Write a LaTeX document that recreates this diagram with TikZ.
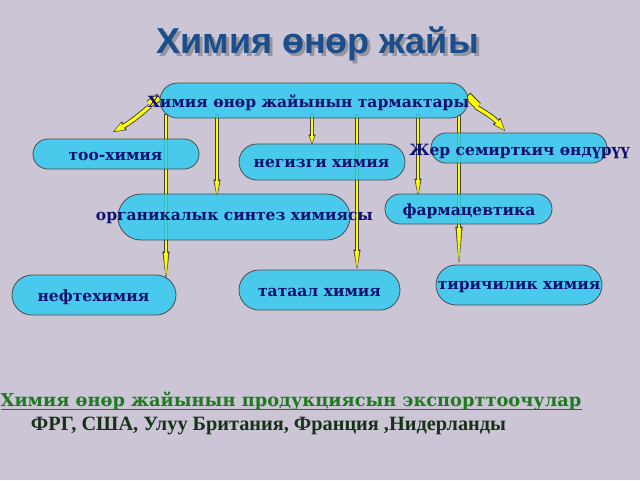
\documentclass[tikz,border=0pt]{standalone}
\usepackage{fontspec}
\setmainfont{DejaVu Serif}
\newfontfamily\titlefont{Liberation Sans}
\newfontfamily\timesfont{Liberation Serif}
\usetikzlibrary{shapes.misc,arrows.meta}
\definecolor{bgc}{RGB}{203,197,213}
\definecolor{cyanfill}{RGB}{51,204,242}
\definecolor{navy}{RGB}{16,16,110}
\definecolor{titleblue}{RGB}{28,78,140}
\definecolor{grn}{RGB}{30,122,30}
\definecolor{dkgrn}{RGB}{22,50,22}
\definecolor{yel}{RGB}{255,255,0}
\pgfdeclarelayer{bg}
\pgfsetlayers{bg,main}
\begin{document}
\begin{tikzpicture}[x=1pt,y=1pt,
  pill/.style={rounded rectangle, draw=black!70, line width=0.8pt, fill=cyanfill, fill opacity=0.85, inner sep=0pt},
  lab/.style={font=\bfseries\fontsize{15.5}{18}\selectfont, text=navy, inner sep=0pt},
  vblack/.style={draw=black!75, line width=3.2pt, -{Triangle[length=#1, width=7pt, line width=0.4pt]}},
  vyel/.style={draw=yel, line width=1.6pt, shorten >=1.6pt, -{Triangle[length=#1-3pt, width=4.4pt, line width=0.4pt]}},
  tblack/.style={draw=black!75, line width=8pt},
  tyel/.style={draw=yel, line width=6pt, shorten <=1pt},
  cblack/.style={draw=black!75, line width=5pt, -{Triangle[length=13pt, width=10pt, line width=0.4pt]}},
  cyel/.style={draw=yel, line width=3.2pt, shorten >=1.6pt, -{Triangle[length=10pt, width=7.4pt, line width=0.4pt]}},
  ttl/.style={font=\titlefont\bfseries\fontsize{36}{42}\selectfont, inner sep=0pt, anchor=base}
]
\useasboundingbox (0,0) rectangle (640,-480);
% title
\node[ttl, text=black!70, opacity=0.4] (titlesh) at (320.5,-56) {Химия өнөр жайы};
\node[ttl, text=titleblue] (title) at (317.5,-53) {Химия өнөр жайы};
% shapes
\node[pill, minimum width=308, minimum height=35] (top) at (314,-100.5) {};
\node[pill, minimum width=166, minimum height=30] (too) at (116,-154) {};
\node[pill, minimum width=166, minimum height=36] (neg) at (322,-162) {};
\node[pill, minimum width=176, minimum height=30] (zher) at (519,-148) {};
\node[pill, minimum width=232, minimum height=46] (org) at (234,-217) {};
\node[pill, minimum width=167, minimum height=30] (farm) at (468.5,-209) {};
\node[pill, minimum width=166, minimum height=40] (tir) at (519,-285) {};
\node[pill, minimum width=164, minimum height=40] (neft) at (94,-295) {};
\node[pill, minimum width=161, minimum height=40] (tat) at (319.5,-290) {};
% texts
\node[lab] (topt) at (308.5,-103) {Химия өнөр жайынын тармактары};
\node[lab] (toot) at (115.5,-156) {тоо-химия};
\node[lab] (negt) at (321.5,-163) {негизги химия};
\node[lab] (zhert) at (519.5,-151) {Жер семирткич өндүрүү};
\node[lab] (orgt) at (234.5,-218) {органикалык синтез химиясы};
\node[lab] (farmt) at (469,-211) {фармацевтика};
\node[lab] (tirt) at (519,-287) {тиричилик химия};
\node[lab] (neftt) at (93.5,-297) {нефтехимия};
\node[lab] (tatt) at (319.5,-292) {татаал химия};
% bottom texts
\node[font=\bfseries\fontsize{17.8}{20}\selectfont, text=grn, inner sep=0pt, anchor=base west] (exp) at (0.5,-406) {Химия өнөр жайынын продукциясын экспорттоочулар};
\draw[grn, line width=1.2pt] ([yshift=-3.5pt]exp.base west) -- ([yshift=-3.5pt]exp.base east);
\node[font=\timesfont\bfseries\fontsize{20.3}{24}\selectfont, text=dkgrn, inner sep=0pt, anchor=base] (ctr) at (268.5,-430) {ФРГ, США, Улуу Британия, Франция ,Нидерланды};
% x positions of connectors
\coordinate (x1) at (166,0);
\coordinate (x2) at (217,0);
\coordinate (x3) at (312,0);
\coordinate (x4) at (357,0);
\coordinate (x5) at (418,0);
\coordinate (x6) at (459,0);
\coordinate (lk) at (149,-104);
\coordinate (lk2) at (150,-106);
\coordinate (lend) at (113,-132);
\coordinate (rk) at (478,-106);
\coordinate (rk2) at (476,-107);
\coordinate (rend) at (505,-131);
\begin{pgfonlayer}{bg}
\fill[bgc] (0,0) rectangle (640,-480);
\foreach \xx/\tg/\dy/\hl in {x1/neft/-5/28pt, x2/org/-4/18pt, x3/neg/-1/10pt, x4/tat/0/20pt, x5/farm/-3/18pt, x6/tir/0/38pt}{
  \draw[vblack=\hl] ([yshift=4pt]\xx |- top.south) -- ([yshift=\dy pt]\xx |- \tg.north);
  \draw[vyel=\hl] ([yshift=3pt]\xx |- top.south) -- ([yshift=\dy pt]\xx |- \tg.north);
}
% curved arrows
\draw[tblack] ([shift={(0,3.5)}]top.west) -- (lk);
\draw[cblack] (lk2) to[bend left=6] (lend);
\draw[tblack] ([shift={(-1,5)}]top.east) -- (rk);
\draw[cblack] (rk2) to[bend left=10] (rend);
\draw[tyel] ([shift={(0,3.5)}]top.west) -- (lk);
\draw[cyel] (lk2) to[bend left=6] (lend);
\draw[tyel] ([shift={(-1,5)}]top.east) -- (rk);
\draw[cyel] (rk2) to[bend left=10] (rend);
\end{pgfonlayer}
\end{tikzpicture}
\end{document}
